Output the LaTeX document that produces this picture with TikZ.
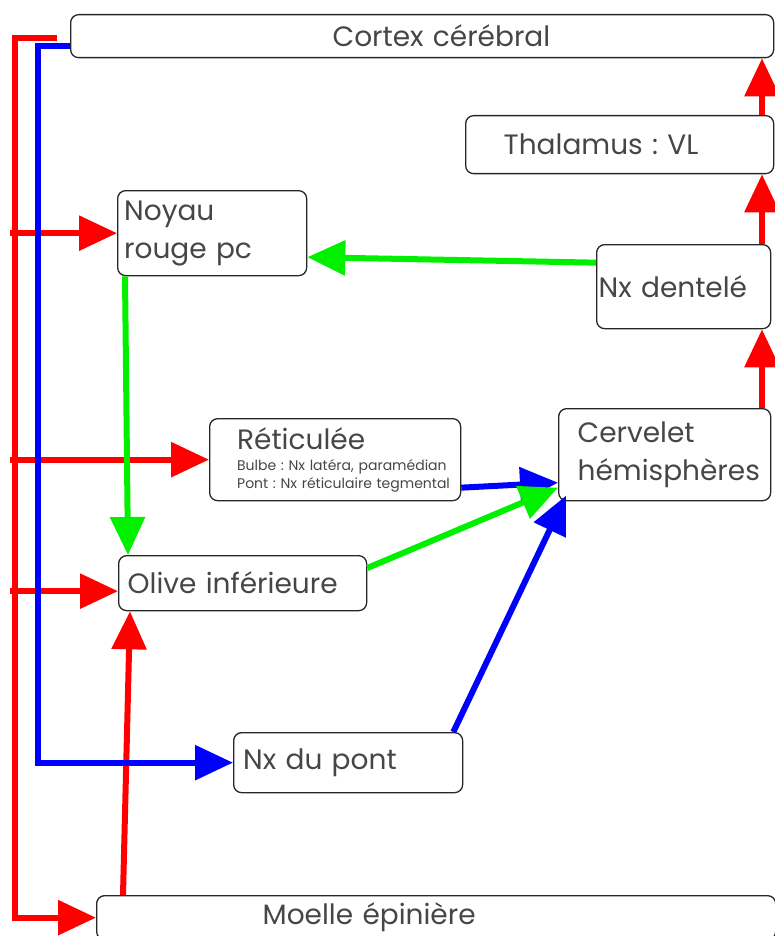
\documentclass[tikz,border=0pt]{standalone}
\usepackage{fontspec}
\setmainfont{Poppins}
\usetikzlibrary{arrows.meta}

\definecolor{rgreen}{RGB}{0,240,0}
\definecolor{txtgray}{RGB}{70,70,70}

\begin{document}
\frenchspacing
\begin{tikzpicture}[
    x=1pt, y=-1pt,
    font=\fontsize{28}{38}\selectfont,
    box/.style={draw=black!85, rounded corners=8pt, line width=1.3pt, text=txtgray, inner sep=0pt, anchor=north west},
    link/.style={-{Triangle[length=38pt, width=34pt]}, line width=6pt},
    rlink/.style={link, red},
    blink/.style={link, blue},
    glink/.style={link, rgreen}
]
\useasboundingbox (0,0) rectangle (775,936);

% boxes
\node[box, minimum width=703pt, minimum height=43pt, text width=703pt, align=left] (cortex) at (70,14) {\hspace*{262pt}Cortex cérébral};
\node[box, minimum width=308pt, minimum height=58pt, text width=270pt, align=left] (thalamus) at (465,115) {\hspace*{19pt}Thalamus : VL};
\node[box, minimum width=189pt, minimum height=85pt, text width=176pt, align=left] (noyau) at (117,190) {Noyau\\rouge pc};
\node[box, minimum width=174pt, minimum height=84pt, text width=174pt, align=left] (dentele) at (596,244) {\hspace*{2pt}Nx dentelé};
\node[box, minimum width=251pt, minimum height=82pt, text width=246pt, align=left, font=\fontsize{14}{18}\selectfont] (reti) at (209,418)
    {{\fontsize{28}{28}\selectfont\hspace*{25pt}Réticulée}\\[3pt]
     \hspace*{25pt}Bulbe : Nx latéra, paramédian\\
     \hspace*{25pt}Pont : Nx réticulaire tegmental};
\node[box, minimum width=212pt, minimum height=92pt, text width=212pt, align=left] (cervelet) at (558,408) {\hspace*{19pt}Cervelet\\\hspace*{19pt}hémisphères};
\node[box, minimum width=248pt, minimum height=55pt, text width=230pt, align=left] (olive) at (118,555) {Olive inférieure};
\node[box, minimum width=229pt, minimum height=60pt, text width=210pt, align=left] (nxpont) at (233,732) {Nx du pont};
\node[box, minimum width=679pt, minimum height=44pt, text width=679pt, align=left] (moelle) at (96,895) {\hspace*{166pt}Moelle épinière};

\coordinate (rbus) at (10,0);
\coordinate (rcol) at (762,0);

% descending red pathway
\draw[rlink] ([xshift=-13pt,yshift=-2pt]cortex.west) -| ([xshift=-81pt]moelle.west) -- (moelle.west);
\draw[rlink] (noyau.west -| rbus) -- (noyau.west);
\draw[rlink] (reti.west -| rbus) -- (reti.west);
\draw[rlink] ([yshift=-8pt]olive.west -| rbus) -- ([yshift=-8pt]olive.west);
\draw[rlink] ([xshift=27pt]moelle.north west) -- ([xshift=12pt]olive.south west);

% ascending red pathway
\draw[rlink] (cervelet.north -| rcol) -- (dentele.south -| rcol);
\draw[rlink] (dentele.north -| rcol) -- (thalamus.south -| rcol);
\draw[rlink] (thalamus.north -| rcol) -- (cortex.south -| rcol);

% cortico-pontine (blue)
\draw[blink] ([yshift=-10pt]cortex.west) -| ([xshift=-195pt]nxpont.west) -- (nxpont.west);
\draw[blink] ([yshift=-28pt]reti.east) -- ([yshift=-28pt]cervelet.west);
\draw[blink] ([xshift=-10pt]nxpont.north east) -- ([xshift=8pt,yshift=-41pt]cervelet.west);

% green connections
\draw[glink] ([yshift=24pt]dentele.west) -- ([yshift=-24pt]noyau.east);
\draw[glink] ([xshift=8pt]noyau.south west) -- ([xshift=10pt]olive.north west);
\draw[glink] ([yshift=-13pt]olive.north east) -- ([yshift=-33pt]cervelet.west);

\end{tikzpicture}
\end{document}
